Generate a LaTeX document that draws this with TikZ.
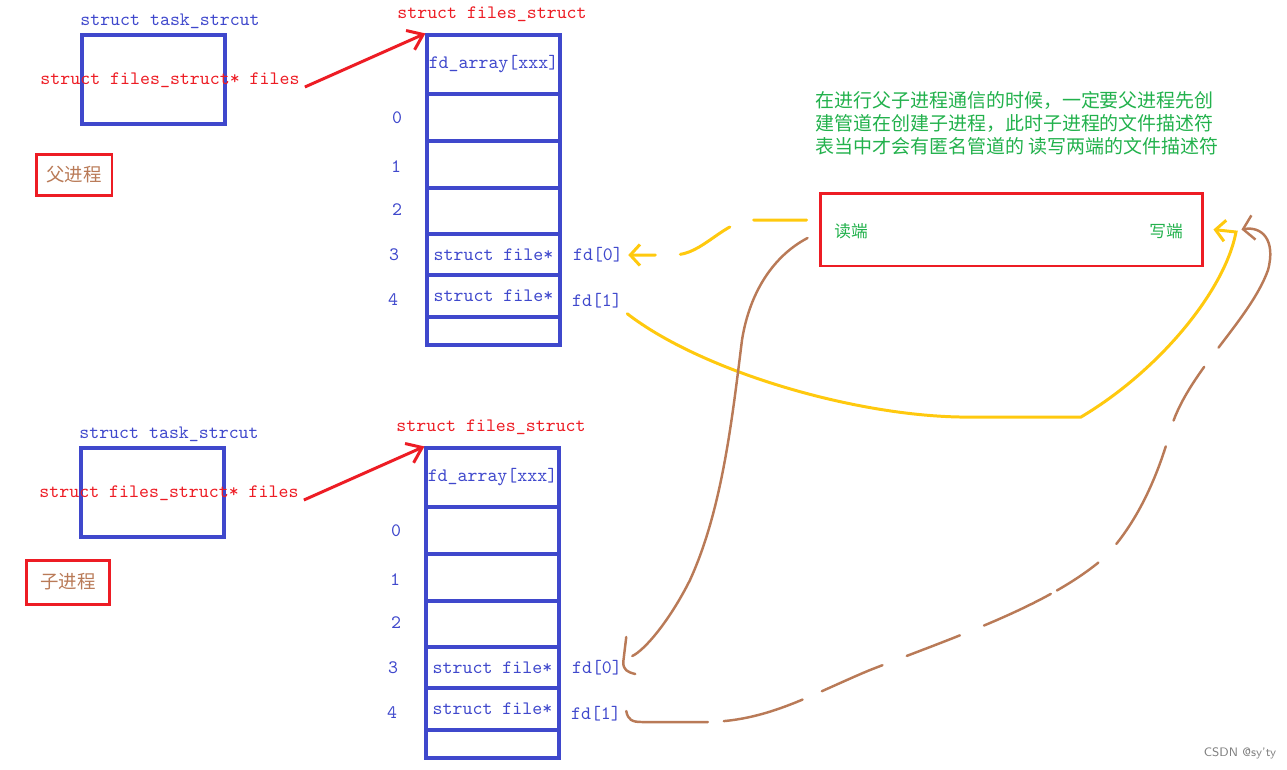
\documentclass[tikz,border=0pt]{standalone}
\usepackage{fontspec}
\newfontfamily\cjk{Noto Sans CJK SC}
\usetikzlibrary{arrows.meta}

\definecolor{fblue}{RGB}{63,72,204}
\definecolor{fred}{RGB}{237,28,36}
\definecolor{fbrown}{RGB}{185,122,87}
\definecolor{fyellow}{RGB}{255,201,14}
\definecolor{fgreen}{RGB}{34,177,76}

\tikzset{
  mono/.style={font=\ttfamily\fontsize{10.8}{13}\selectfont, inner sep=0.1cm},
  bluetxt/.style={mono, text=fblue},
  redtxt/.style={mono, text=fred},
  taskbox/.style={draw=fblue, line width=1.8pt, minimum width=2.86cm, minimum height=1.78cm},
  cell/.style={bluetxt, draw=fblue, line width=1.8pt, minimum width=2.66cm, inner sep=0},
  procbox/.style={draw=fred, line width=1.7pt, text=fbrown, font=\cjk\fontsize{10.5}{12}\selectfont, inner sep=0},
  gtxt/.style={text=fgreen, font=\cjk\fontsize{9.5}{11}\selectfont, inner sep=0},
  redarrow/.style={draw=fred, line width=1.7pt, -{Straight Barb[length=8pt,width=12pt]}},
  yel/.style={draw=fyellow, line width=1.7pt, line cap=round},
  brn/.style={draw=fbrown, line width=1.4pt, line cap=round},
  ybarb/.style={-{Straight Barb[length=5.5pt,width=12pt]}},
  bbarb/.style={-{Straight Barb[length=6pt,width=14pt]}},
}

\begin{document}
\begin{tikzpicture}[x=0.02cm, y={(0,-0.02cm)}]
\useasboundingbox (0,0) rectangle (1287,769);

% parent (p) and child (c)
\foreach \p/\dx/\dy in {p/0/0, c/-1/413} {
  \begin{scope}[shift={(\dx,\dy)}]
  \node[bluetxt] (\p task) at (170,21) {struct task\_strcut};
  \node[taskbox] (\p tbox) at (153.5,79.5) {};
  \node[redtxt] (\p files) at (170,80) {struct files\_struct* files};
  \node[redtxt] (\p title) at (492,14) {struct files\_struct};
  \node[cell, minimum height=1.18cm] (\p h) at (493.5,64.5) {fd\_array[xxx]};
  \node[cell, minimum height=0.94cm] (\p c0) at (493.5,117.5) {};
  \node[cell, minimum height=0.94cm] (\p c1) at (493.5,164.5) {};
  \node[cell, minimum height=0.92cm] (\p c2) at (493.5,211) {};
  \node[cell, minimum height=0.82cm] (\p c3) at (493.5,254.5) {struct file*};
  \node[cell, minimum height=0.84cm] (\p c4) at (493.5,296) {struct file*};
  \node[cell, minimum height=0.56cm] (\p c5) at (493.5,331) {};
  \foreach \i/\ix/\iy in {0/397/118, 1/396/167, 2/397/210, 3/394/255, 4/393/300}
    \node[bluetxt] (\p i\i) at (\ix,\iy) {\i};
  \node[bluetxt] (\p fd0) at (598,255) {fd[0]};
  \node[bluetxt] (\p fd1) at (597,301) {fd[1]};
  \draw[redarrow] ([yshift=-0.14cm]\p files.east) -- (\p h.north west);
  \end{scope}
}

\node[procbox, minimum width=1.52cm, minimum height=0.82cm] (pproc) at (74,174.5) {父进程};
\node[procbox, minimum width=1.68cm, minimum height=0.88cm] (cproc) at (68,582) {子进程};

% pipe
\node[draw=fred, line width=1.7pt, minimum width=7.66cm, minimum height=1.46cm] (pipe) at (1011.5,229.5) {};
\node[gtxt] (rd) at (851,231) {读端};
\node[gtxt] (wr) at (1166,231) {写端};
\node[gtxt, font=\cjk\fontsize{10.8}{13.1}\selectfont, anchor=north west, align=left] (note) at (815,91)
  {在进行父子进程通信的时候，一定要父进程先创\\建管道在创建子进程，此时子进程的文件描述符\\表当中才会有匿名管道的 读写两端的文件描述符};

% parent ends
\draw[yel, ybarb, dash pattern=on 1.06cm off 0.5cm on 1.14cm off 0.5cm on 3cm]
  ([shift={(-12,-9.5)}]pipe.west) -- ++(-53,0)
  .. controls +(-30,0) and +(30,0) .. ++(-80,35) -- (pfd0.east);
\draw[yel, ybarb] (pfd1.south east) .. controls (700,370) and (850,415) .. (960,417)
  -- (1081,417) .. controls (1160,370) and (1225,290) .. (1236,232)
  -- ([xshift=0.18cm]pipe.east);

% child ends
\draw[brn] ([shift={(-11,8.5)}]pipe.west) .. controls (775,255) and (750,290) .. (742,340)
  .. controls (732,420) and (722,510) .. (690,580)
  .. controls (670,620) and (645,650) .. ([shift={(5,-12)}]cfd0.east);
\draw[brn] ([shift={(-1,-31)}]cfd0.east) -- ++(-3,25)
  .. controls +(0,8) and +(-8,-2) .. ++(12,12);
\draw[brn, bbarb, dash pattern=on 1.75cm off 0.32cm on 1.64cm off 0.42cm on 1.32cm off 0.52cm on 1.14cm off 0.52cm on 1.48cm off 0.14cm on 1cm off 0.52cm on 2.2cm off 0.54cm on 1.24cm off 0.48cm on 10cm]
  ([yshift=0.06cm]cfd1.east) .. controls (628,720) and (632,722) .. (642,722) -- (710,722)
  .. controls (770,720) and (810,695) .. (870,670)
  .. controls (960,635) and (1050,605) .. (1105,557)
  .. controls (1140,520) and (1160,470) .. (1172,425)
  .. controls (1190,370) and (1250,320) .. (1268,270)
  .. controls (1276,240) and (1262,226) .. ([xshift=0.74cm]pipe.east);

\node[text=gray, font=\sffamily\fontsize{7}{8}\selectfont] (mark) at (1240,753) {CSDN @sy'ty};
\end{tikzpicture}
\end{document}
